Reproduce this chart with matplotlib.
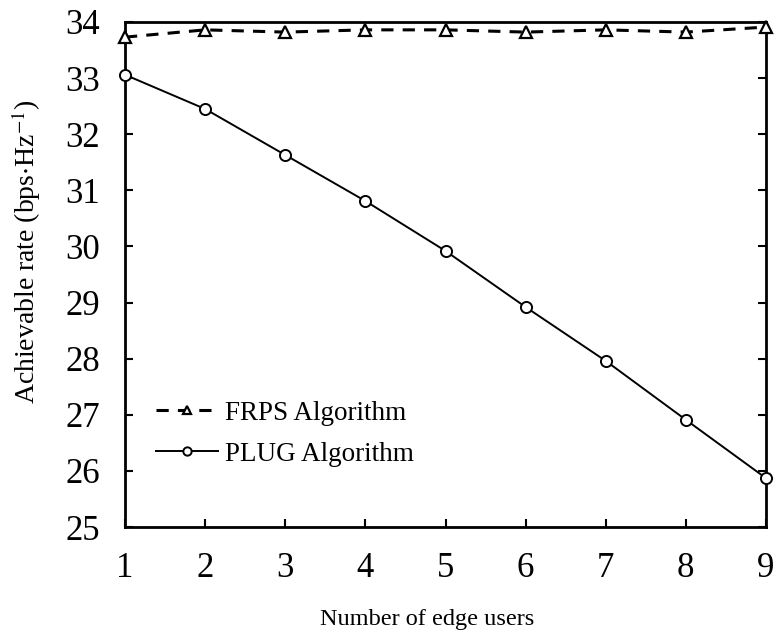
import matplotlib
matplotlib.use("Agg")
import matplotlib.pyplot as plt

plt.rcParams['font.family'] = ['Liberation Serif', 'DejaVu Serif']
plt.rcParams['mathtext.fontset'] = 'stix'

edge_users = [1, 2, 3, 4, 5, 6, 7, 8, 9]
frps_rate = [33.73, 33.86, 33.82, 33.86, 33.86, 33.82, 33.86, 33.82, 33.91]
plug_rate = [33.06, 32.45, 31.63, 30.81, 29.92, 28.92, 27.96, 26.91, 25.87]
y_ticks = [25, 26, 27, 28, 29, 30, 31, 32, 33, 34]

fig = plt.figure(figsize=(7.77, 6.41), dpi=100)
ax = fig.add_axes([125/777, 1 - 527/641, (766-125)/777, (527-22)/641])

ax.plot(edge_users, frps_rate, color='black', linestyle=(0, (4, 3)), linewidth=2.2,
        marker='^', markersize=8, markerfacecolor='white', markeredgecolor='black',
        markeredgewidth=1.6, label='FRPS Algorithm', clip_on=False, zorder=3)
ax.plot(edge_users, plug_rate, color='black', linestyle='-', linewidth=1.4,
        marker='o', markersize=8, markerfacecolor='white', markeredgecolor='black',
        markeredgewidth=1.4, label='PLUG Algorithm', clip_on=False, zorder=3)

ax.set_xlim(1, 9)
ax.set_ylim(25, 34)
ax.set_xticks(edge_users)
ax.set_yticks(y_ticks)
ax.tick_params(axis='both', direction='in', length=6, width=1.5, labelsize=25)
ax.tick_params(axis='x', pad=18)
ax.tick_params(axis='y', pad=18, right=True)
for s in ax.spines.values():
    s.set_linewidth(2.0)

ax.set_xlabel('Number of edge users', fontsize=17.5)
ax.xaxis.set_label_coords(0.472, -0.163)
ax.set_ylabel(r'Achievable rate (bps$\cdot$Hz$^{-1}$)', fontsize=20)
ax.yaxis.set_label_coords(-0.128, 0.545)

leg = ax.legend(loc='lower left', bbox_to_anchor=(0.01, 0.071), frameon=False,
                fontsize=19.5, handlelength=2.3, handletextpad=0.25, labelspacing=0.6,
                markerscale=0.75)

fig.savefig('out.png', dpi=100)
